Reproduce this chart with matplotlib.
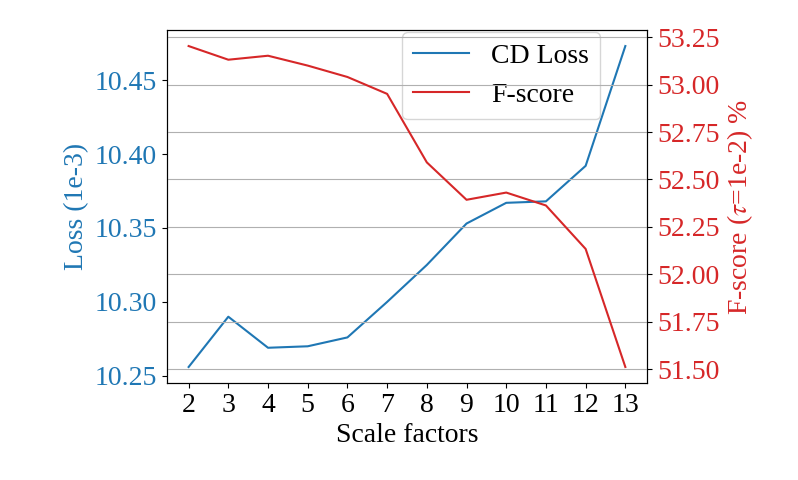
import matplotlib
matplotlib.use("Agg")
import matplotlib.pyplot as plt
from matplotlib.ticker import MultipleLocator

# Data
scales = [2, 3, 4, 5, 6, 7, 8, 9, 10, 11, 12, 13]
cd_loss = [10.256, 10.290, 10.269, 10.270, 10.276, 10.300, 10.325, 10.353,
           10.367, 10.368, 10.392, 10.473]
f_score = [53.203, 53.131, 53.152, 53.100, 53.040, 52.951, 52.590, 52.393,
           52.431, 52.363, 52.134, 51.512]

plt.rcParams["font.family"] = ["Liberation Serif", "DejaVu Serif"]
plt.rcParams["mathtext.fontset"] = "stix"
plt.rcParams["font.size"] = 20

fig, ax1 = plt.subplots(figsize=(7.98, 4.8), dpi=100)
fig.subplots_adjust(left=0.209, right=0.811, top=0.9375, bottom=0.202)

blue = "tab:blue"
red = "tab:red"

l1, = ax1.plot(scales, cd_loss, color=blue, label="CD Loss")
ax1.set_xlabel("Scale factors")
ax1.set_ylabel("Loss (1e-3)", color=blue)
ax1.tick_params(axis="y", labelcolor=blue)
ax1.set_xticks(scales)

ax2 = ax1.twinx()
l2, = ax2.plot(scales, f_score, color=red, label="F-score")
ax2.set_ylabel(r"F-score ($\tau$=1e-2) %", color=red)
ax2.tick_params(axis="y", labelcolor=red)
ax2.yaxis.set_major_locator(MultipleLocator(0.25))
ax2.grid(True, axis="y")

ax1.legend(handles=[l1, l2], loc="upper right", bbox_to_anchor=(0.902, 0.994),
           borderaxespad=0)

plt.savefig("out.png")
plt.close()
